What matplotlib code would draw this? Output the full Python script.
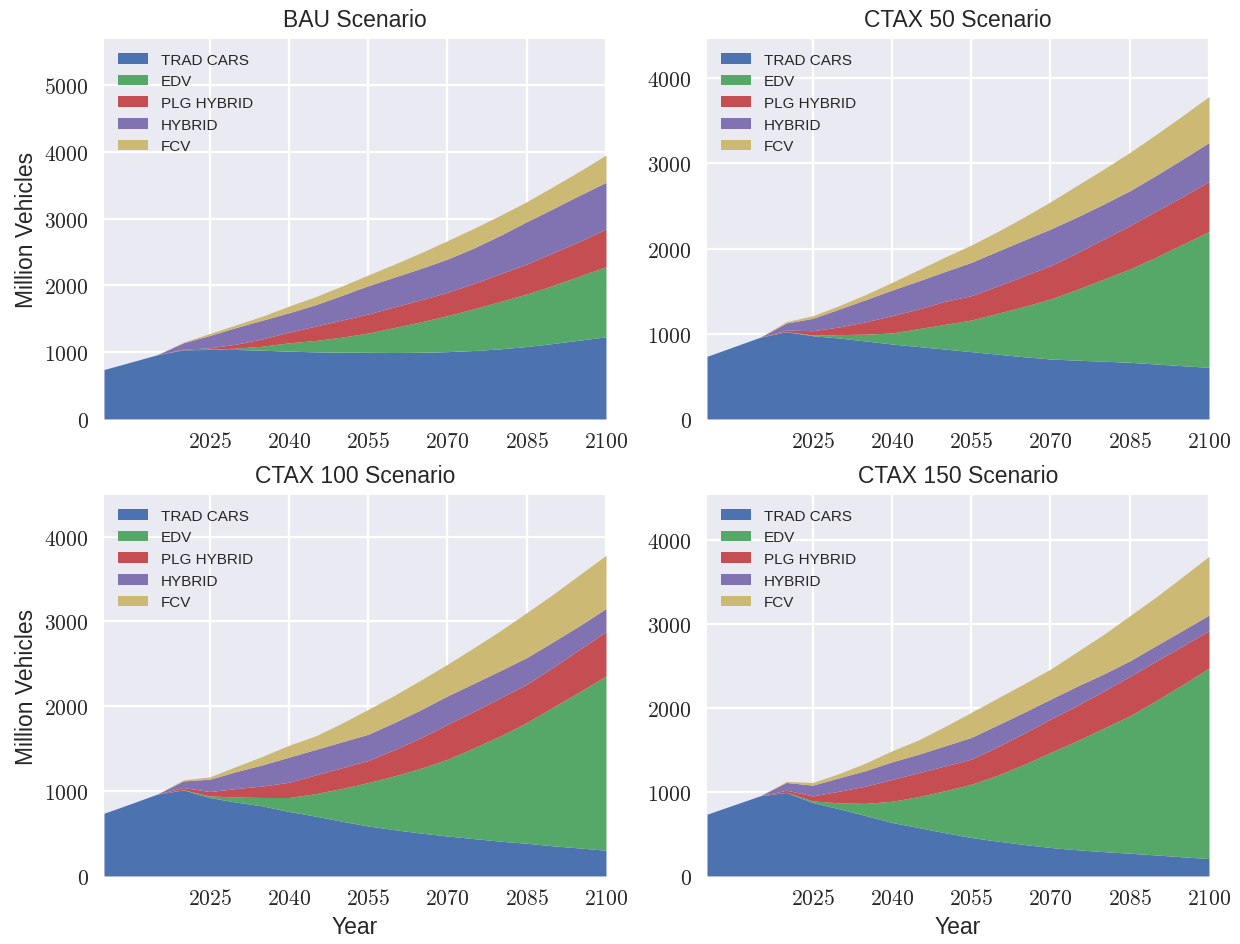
import matplotlib
matplotlib.use("Agg")
import matplotlib.pyplot as plt
from matplotlib.ticker import FuncFormatter, FixedLocator
import seaborn as sns

# Projection years (5-year steps)
years = [2005, 2010, 2015, 2020, 2025, 2030, 2035, 2040, 2045, 2050,
         2055, 2060, 2065, 2070, 2075, 2080, 2085, 2090, 2095, 2100]

labels = ["TRAD CARS", "EDV", "PLG HYBRID", "HYBRID", "FCV"]

# BAU scenario (million vehicles)
bau_trad = [740, 850, 960, 1035, 1040, 1040, 1030, 1015, 1005, 1000,
            998, 995, 998, 1008, 1025, 1050, 1085, 1130, 1180, 1230]
bau_edv = [0, 0, 0, 2, 5, 20, 60, 125, 170, 225,
           289, 375, 457, 539, 625, 710, 786, 870, 960, 1050]
bau_plg = [0, 0, 0, 8, 20, 60, 110, 160, 215, 255,
           285, 310, 330, 349, 380, 415, 449, 490, 520, 564]
bau_hyb = [0, 0, 0, 95, 185, 250, 280, 290, 320, 370,
           424, 445, 470, 499, 530, 575, 634, 660, 690, 699]
bau_fcv = [0, 0, 0, 10, 30, 40, 60, 100, 120, 140,
           160, 195, 235, 275, 295, 300, 299, 330, 360, 409]

# CTAX 50 scenario
c50_trad = [735, 847, 958, 1024, 977, 950, 915, 880, 850, 820,
            790, 760, 730, 704, 690, 678, 665, 645, 625, 606]
c50_edv = [0, 0, 0, 2, 8, 40, 80, 129, 210, 290,
           371, 480, 590, 704, 830, 962, 1095, 1255, 1425, 1595]
c50_plg = [0, 0, 0, 17, 51, 90, 145, 203, 230, 270,
           286, 320, 360, 391, 430, 470, 508, 540, 560, 587]
c50_hyb = [0, 0, 0, 83, 145, 210, 260, 301, 330, 350,
           391, 410, 420, 430, 420, 410, 410, 420, 440, 457]
c50_fcv = [0, 0, 0, 16, 31, 40, 60, 90, 130, 170,
           203, 230, 270, 320, 370, 410, 450, 480, 510, 540]

# CTAX 100 scenario
c100_trad = [739, 850, 963, 1014, 924, 870, 825, 760, 705, 645,
             589, 545, 505, 471, 440, 410, 385, 355, 330, 303]
c100_edv = [0, 0, 0, 2, 19, 60, 100, 164, 265, 385,
            512, 635, 765, 904, 1070, 1240, 1423, 1635, 1840, 2054]
c100_plg = [0, 0, 0, 26, 52, 100, 135, 180, 220, 245,
            260, 310, 360, 413, 430, 450, 451, 470, 500, 523]
c100_hyb = [0, 0, 0, 78, 145, 200, 250, 296, 300, 305,
            309, 320, 330, 334, 330, 320, 315, 300, 280, 271]
c100_fcv = [0, 0, 0, 12, 27, 60, 100, 140, 160, 220,
            294, 320, 350, 373, 420, 470, 530, 560, 600, 628]

# CTAX 150 scenario
c150_trad = [736, 845, 954, 995, 875, 800, 720, 637, 577, 515,
             458, 415, 375, 339, 312, 290, 271, 250, 228, 207]
c150_edv = [0, 0, 0, 2, 20, 70, 145, 253, 368, 500,
            635, 785, 955, 1133, 1298, 1470, 1637, 1840, 2052, 2270]
c150_plg = [0, 0, 0, 25, 59, 140, 205, 260, 285, 295,
            299, 340, 370, 397, 420, 440, 470, 470, 460, 445]
c150_hyb = [0, 0, 0, 92, 128, 160, 185, 210, 220, 240,
            259, 260, 250, 238, 230, 205, 185, 185, 186, 187]
c150_fcv = [0, 0, 0, 12, 32, 50, 90, 131, 170, 230,
            298, 320, 340, 358, 410, 470, 537, 580, 640, 700]

titles = ["BAU Scenario", "CTAX 50 Scenario", "CTAX 100 Scenario", "CTAX 150 Scenario"]
scenarios = [
    [bau_trad, bau_edv, bau_plg, bau_hyb, bau_fcv],
    [c50_trad, c50_edv, c50_plg, c50_hyb, c50_fcv],
    [c100_trad, c100_edv, c100_plg, c100_hyb, c100_fcv],
    [c150_trad, c150_edv, c150_plg, c150_hyb, c150_fcv],
]
y_tops = [5690, 4460, 4490, 4540]
y_tick_max = [5000, 4000, 4000, 4000]
x_ticks = [2025, 2040, 2055, 2070, 2085, 2100]

colors = ["#4C72B0", "#55A868", "#C44E52", "#8172B2", "#CCB974"]

sns.set_style("darkgrid")
plt.rcParams["font.family"] = ["Liberation Sans", "DejaVu Sans"]
plt.rcParams["mathtext.fontset"] = "cm"
plt.rcParams["text.color"] = ".15"

fig = plt.figure(figsize=(12.4, 9.45), dpi=100)
positions = [
    [0.0839, 0.5556, 0.4048, 0.4021],
    [0.5702, 0.5556, 0.4048, 0.4021],
    [0.0839, 0.0720, 0.4048, 0.4032],
    [0.5702, 0.0720, 0.4048, 0.4032],
]

fmt = FuncFormatter(lambda v, p: r"$%d$" % int(round(v)))

for i, (pos, series) in enumerate(zip(positions, scenarios)):
    ax = fig.add_axes(pos)
    ax.set_facecolor("#EAEAF2")
    ax.stackplot(years, *series, labels=labels, colors=colors, linewidth=0)
    ax.set_xlim(2005, 2100)
    ax.set_ylim(0, y_tops[i])
    ax.xaxis.set_major_locator(FixedLocator(x_ticks))
    ax.yaxis.set_major_locator(FixedLocator(list(range(0, y_tick_max[i] + 1, 1000))))
    ax.xaxis.set_major_formatter(fmt)
    ax.yaxis.set_major_formatter(fmt)
    ax.tick_params(axis="both", length=0, labelsize=15.5, colors=".15")
    ax.tick_params(axis="x", pad=9)
    ax.tick_params(axis="y", pad=11)
    ax.grid(True, color="white", linewidth=1.6)
    ax.set_axisbelow(True)
    for s in ax.spines.values():
        s.set_visible(False)
    ax.set_title(titles[i], fontsize=16.5, pad=9)
    ax.legend(loc="upper left", fontsize=11, frameon=False)
    if i % 2 == 0:
        ax.set_ylabel("Million Vehicles", fontsize=16.5, labelpad=5)
    if i >= 2:
        ax.set_xlabel("Year", fontsize=16.5, labelpad=4)

fig.savefig("out.png", dpi=100, facecolor="white")
